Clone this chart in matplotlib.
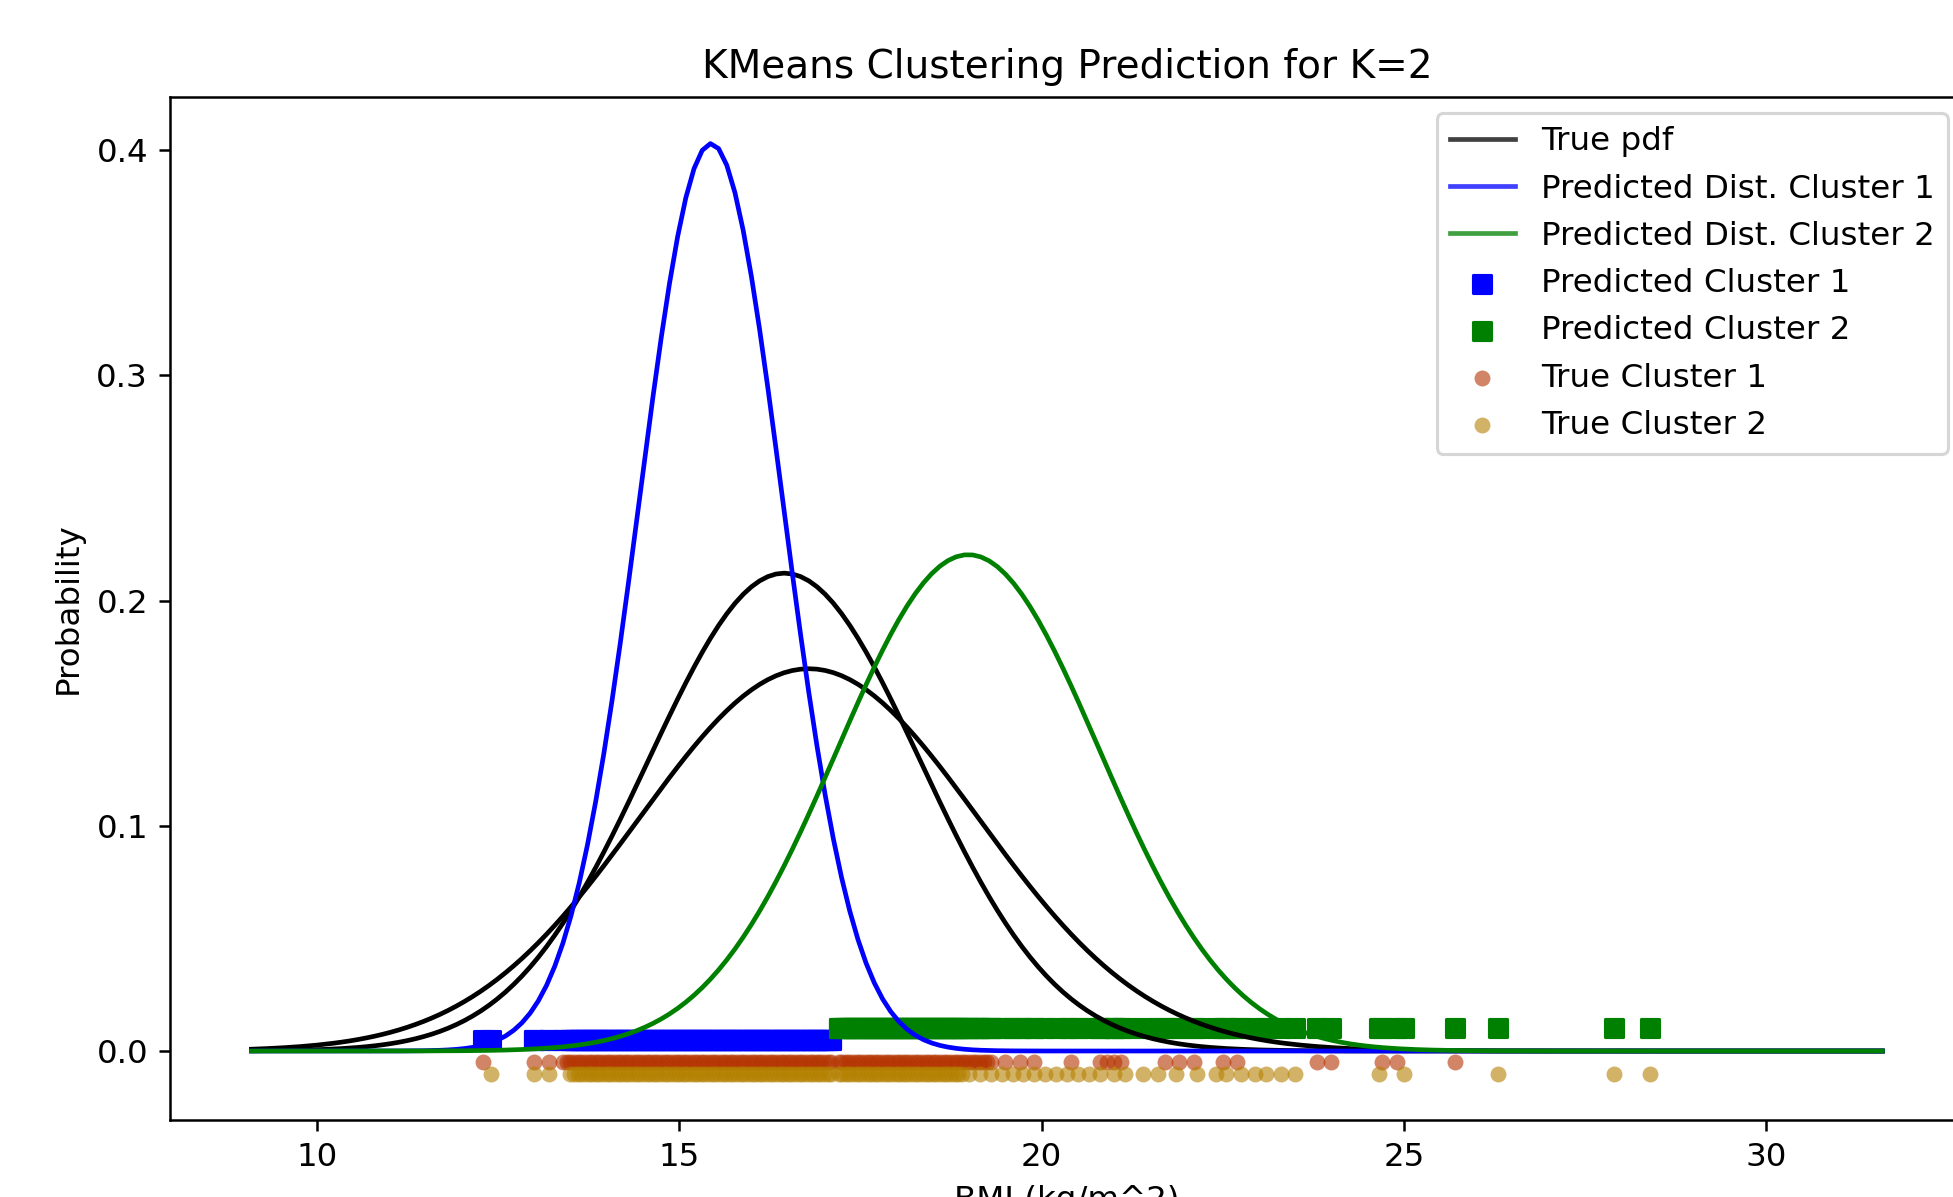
import numpy as np
import matplotlib.pyplot as plt

plt.rcParams["font.size"] = 10.4

# Normais (media, desvio)
true_means = [16.45, 16.79]
true_stds = [1.88, 2.35]
pred_means = [15.44, 18.99]
pred_stds = [0.99, 1.81]

# Faixa de x usada para desenhar as curvas
x_start, x_end = 9.1, 31.6

# Valores de IMC de cada cluster verdadeiro
true_c1 = [12.3, 13.0, 13.2,
           13.4, 13.5, 13.6, 13.7, 13.8, 13.9, 14.0, 14.1, 14.2, 14.3,
           14.4, 14.5, 14.6, 14.7, 14.8, 14.9, 15.0, 15.1, 15.2, 15.3,
           15.4, 15.5, 15.6, 15.7, 15.8, 15.9, 16.0, 16.1, 16.2, 16.3,
           16.4, 16.5, 16.6, 16.7, 16.8, 16.9, 17.0, 17.1, 17.2, 17.3,
           17.4, 17.5, 17.6, 17.7, 17.8, 17.9, 18.0, 18.1, 18.2, 18.3,
           18.4, 18.5, 18.6, 18.7, 18.8, 18.9, 19.0, 19.1, 19.2, 19.3,
           13.45, 13.55, 13.65, 13.75, 13.85, 13.95, 14.05, 14.15, 14.25,
           14.35, 14.45, 14.55, 14.65, 14.75, 14.85, 14.95, 15.05, 15.15,
           15.25, 15.35, 15.45, 15.55, 15.65, 15.75, 15.85, 15.95, 16.05,
           16.15, 16.25, 16.35, 16.45, 16.55, 16.65, 16.75, 16.85, 16.95,
           17.05, 17.25, 17.35, 17.45, 17.55, 17.65, 17.75, 17.85, 17.95,
           18.05, 18.15, 18.25, 18.35, 18.45, 18.55, 18.65, 18.75, 18.85,
           18.95, 19.05, 19.15, 19.25,
           19.5, 19.7, 19.9, 20.4, 20.8, 20.9, 21.0, 21.1, 21.7, 21.9,
           22.1, 22.5, 22.7, 23.8, 24.0, 24.7, 24.9, 25.7]

true_c2 = [12.4, 13.0, 13.2,
           13.5, 13.6, 13.7, 13.8, 13.9, 14.0, 14.1, 14.2, 14.3, 14.4,
           14.5, 14.6, 14.7, 14.8, 14.9, 15.0, 15.1, 15.2, 15.3, 15.4,
           15.5, 15.6, 15.7, 15.8, 15.9, 16.0, 16.1, 16.2, 16.3, 16.4,
           16.5, 16.6, 16.7, 16.8, 16.9, 17.0, 17.1, 17.2, 17.3, 17.4,
           17.5, 17.6, 17.7, 17.8, 17.9, 18.0, 18.1, 18.2, 18.3, 18.4,
           18.5, 18.6, 18.7, 18.8, 18.9,
           13.55, 13.65, 13.75, 13.85, 13.95, 14.05, 14.15, 14.25, 14.35,
           14.45, 14.55, 14.65, 14.75, 14.85, 14.95, 15.05, 15.15, 15.25,
           15.35, 15.45, 15.55, 15.65, 15.75, 15.85, 15.95, 16.05, 16.15,
           16.25, 16.35, 16.45, 16.55, 16.65, 16.75, 16.85, 16.95, 17.05,
           17.25, 17.35, 17.45, 17.55, 17.65, 17.75, 17.85, 17.95, 18.05,
           18.15, 18.25, 18.35, 18.45, 18.55, 18.65, 18.75, 18.85,
           19.0, 19.15, 19.3, 19.45, 19.6, 19.75, 19.9, 20.05, 20.2,
           20.35, 20.5, 20.65, 20.8, 21.0, 21.15, 21.4, 21.6, 21.85,
           22.15, 22.4, 22.55, 22.75, 22.95, 23.1, 23.3, 23.5,
           24.65, 25.0, 26.3, 27.9, 28.4]

# Fronteira entre os dois clusters previstos pelo KMeans
boundary = 17.15


def normal_pdf(x, mu, sd):
    return np.exp(-0.5 * ((x - mu) / sd) ** 2) / (sd * np.sqrt(2 * np.pi))


x = np.linspace(x_start, x_end, 200)

all_bmi = np.array(true_c1 + true_c2)
pred_c1 = all_bmi[all_bmi <= boundary]
pred_c2 = all_bmi[all_bmi > boundary]

fig = plt.figure(figsize=(1953 / 225, 1197 / 225), dpi=225)
ax = fig.add_axes([0.0870, 0.0643, 0.9186, 0.8546])

ax.plot(x, normal_pdf(x, true_means[0], true_stds[0]), color="black", label="True pdf")
ax.plot(x, normal_pdf(x, true_means[1], true_stds[1]), color="black")
ax.plot(x, normal_pdf(x, pred_means[0], pred_stds[0]), color="blue",
        label="Predicted Dist. Cluster 1")
ax.plot(x, normal_pdf(x, pred_means[1], pred_stds[1]), color="green",
        label="Predicted Dist. Cluster 2")

ax.scatter(pred_c1, np.full(len(pred_c1), 0.005), marker="s", color="blue",
           label="Predicted Cluster 1")
ax.scatter(pred_c2, np.full(len(pred_c2), 0.01), marker="s", color="green",
           label="Predicted Cluster 2")
ax.scatter(true_c1, np.full(len(true_c1), -0.005), s=26, color="#b43400",
           alpha=0.6, linewidths=0, label="True Cluster 1")
ax.scatter(true_c2, np.full(len(true_c2), -0.01), s=26, color="#b48000",
           alpha=0.6, linewidths=0, label="True Cluster 2")

ax.set_title("KMeans Clustering Prediction for K=2")
ax.set_xlabel("BMI (kg/m^2)")
ax.set_ylabel("Probability")

leg = ax.legend(loc="upper right")
for line in leg.get_lines():
    line.set_alpha(0.75)

fig.savefig("out.png", dpi=225)
plt.close()
